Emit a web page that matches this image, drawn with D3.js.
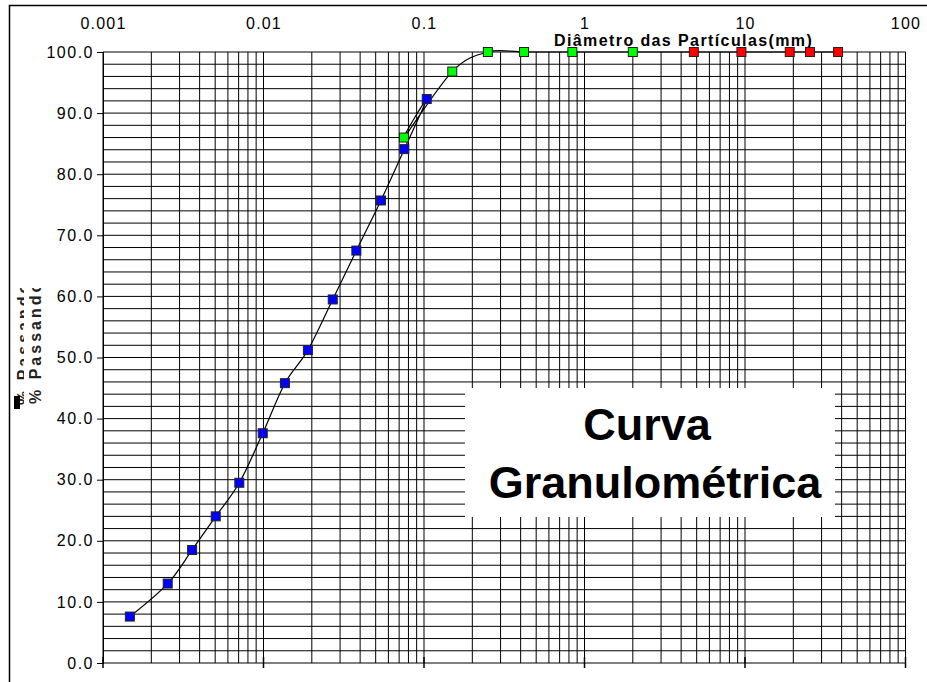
<!DOCTYPE html>
<html>
<head>
<meta charset="utf-8">
<script src="https://cdn.jsdelivr.net/npm/d3@7"></script>
<style>
  html, body { margin: 0; padding: 0; background: #fff; }
  svg { display: block; }
  text { font-family: "Liberation Sans", Arial, sans-serif; }
</style>
</head>
<body>
<svg id="chart" width="927" height="682"></svg>
<script>
// ---- data ----
const sedDiam = [0.00147, 0.00253, 0.00359, 0.00504, 0.00707, 0.00989, 0.0136, 0.0189, 0.0270, 0.0379, 0.0539, 0.0754, 0.104];
const sedPass = [7.6, 13.0, 18.5, 24.0, 29.5, 37.6, 45.8, 51.2, 59.5, 67.5, 75.7, 84.1, 92.3];
const fineDiam = [0.075, 0.15, 0.25, 0.42, 0.84, 2.0];
const finePass = [86.0, 96.8, 100.0, 100.0, 100.0, 100.0];
const coarseDiam = [4.8, 9.5, 19.0, 25.4, 38.0];
const coarsePass = [100.0, 100.0, 100.0, 100.0, 100.0];
const topTickValues = [0.001, 0.01, 0.1, 1, 10, 100];
const topTickLabels = ["0.001", "0.01", "0.1", "1", "10", "100"];
const yTickValues = [0, 10, 20, 30, 40, 50, 60, 70, 80, 90, 100];
const xTitle = "Diâmetro das Partículas(mm)";
const yTitle = "% Passando";
const boxLines = ["Curva", "Granulométrica"];

const svg = d3.select("#chart");
const x = d3.scaleLog().domain([0.001, 100]).range([103, 905.5]);
const y = d3.scaleLinear().domain([0, 100]).range([663, 52]);

// outer border
svg.append("rect").attr("x", 9.5).attr("y", 5.5).attr("width", 1000).attr("height", 1000)
  .attr("fill", "#fff").attr("stroke", "#000").attr("stroke-width", 1.5);

// grid
const vGrid = [];
for (let n = -3; n <= 1; n++) for (let k = 1; k <= 9; k++) vGrid.push(k * Math.pow(10, n));
vGrid.push(100);
const hGrid = d3.range(0, 101, 2);
const grid = svg.append("g");
grid.selectAll("line.v").data(vGrid).join("line")
  .attr("x1", d => x(d)).attr("x2", d => x(d)).attr("y1", y(0)).attr("y2", y(100))
  .attr("stroke", "#000").attr("stroke-width", 1);
grid.selectAll("line.h").data(hGrid).join("line")
  .attr("x1", x(0.001)).attr("x2", x(100)).attr("y1", d => y(d)).attr("y2", d => y(d))
  .attr("stroke", "#000").attr("stroke-width", 1);

// y axis
const yAxis = svg.append("g").attr("transform", `translate(${x(0.001)},0)`)
  .call(d3.axisLeft(y).tickValues(yTickValues).tickSize(6).tickPadding(3).tickFormat(d3.format(".1f")));
yAxis.select(".domain").attr("stroke", "#000");
yAxis.selectAll(".tick line").attr("stroke", "#000");
yAxis.selectAll("text").attr("font-size", 16).attr("fill", "#000")
  .attr("letter-spacing", 1.5).attr("font-family", "Liberation Sans, Arial, sans-serif");

// top axis labels
const topAxis = svg.append("g").attr("transform", `translate(0,${y(100)})`)
  .call(d3.axisTop(x).tickValues(topTickValues).tickSize(0).tickPadding(23)
    .tickFormat((d, i) => topTickLabels[i]));
topAxis.select(".domain").remove();
topAxis.selectAll("text").attr("font-size", 16).attr("fill", "#000")
  .attr("letter-spacing", 1.2).attr("font-family", "Liberation Sans, Arial, sans-serif");

// bottom decade tick marks
svg.append("g").selectAll("line").data(topTickValues).join("line")
  .attr("x1", d => x(d)).attr("x2", d => x(d)).attr("y1", y(0) - 6).attr("y2", y(0) + 5)
  .attr("stroke", "#000").attr("stroke-width", 1.5);

// x title
svg.append("text").attr("x", 554).attr("y", 46).attr("font-size", 16).attr("font-weight", "bold")
  .attr("letter-spacing", 1.4).attr("fill", "#000").text(xTitle);

// y title (clipped, as in the reference)
const defs = svg.append("defs");
defs.append("clipPath").attr("id", "yclipA").append("rect").attr("x", 14).attr("y", 288).attr("width", 10).attr("height", 122);
defs.append("clipPath").attr("id", "yclipB").append("rect").attr("x", 29).attr("y", 288).attr("width", 14).attr("height", 122);
svg.append("g").attr("clip-path", "url(#yclipA)").append("text")
  .attr("transform", "translate(29,405) rotate(-90)")
  .attr("font-size", 16).attr("font-weight", "bold").attr("letter-spacing", 3)
  .attr("fill", "#222").text(yTitle);
svg.append("g").attr("clip-path", "url(#yclipB)").append("text")
  .attr("transform", "translate(41,404) rotate(-90)")
  .attr("font-size", 16).attr("font-weight", "bold").attr("letter-spacing", 3)
  .attr("fill", "#222").text(yTitle);
svg.append("rect").attr("x", 14).attr("y", 396).attr("width", 6).attr("height", 13).attr("fill", "#000");

// title box
svg.append("rect").attr("x", 465).attr("y", 388).attr("width", 370).attr("height", 129).attr("fill", "#fff");
svg.append("text").attr("x", 647).attr("y", 440).attr("text-anchor", "middle")
  .attr("font-size", 45).attr("font-weight", "bold").attr("fill", "#000").text(boxLines[0]);
svg.append("text").attr("x", 655).attr("y", 498).attr("text-anchor", "middle")
  .attr("font-size", 45).attr("font-weight", "bold").attr("fill", "#000").text(boxLines[1]);

// curve: coarse (desc), fine (desc), sedimentation (desc)
const seq = [];
for (let i = coarseDiam.length - 1; i >= 0; i--) seq.push([coarseDiam[i], coarsePass[i]]);
for (let i = fineDiam.length - 1; i >= 0; i--) seq.push([fineDiam[i], finePass[i]]);
for (let i = sedDiam.length - 1; i >= 0; i--) seq.push([sedDiam[i], sedPass[i]]);
const line = d3.line().x(d => x(d[0])).y(d => y(d[1])).curve(d3.curveCardinal.tension(0));
svg.append("path").attr("d", line(seq)).attr("fill", "none").attr("stroke", "#000").attr("stroke-width", 1.2);

// markers
function markers(dArr, pArr, color) {
  svg.append("g").selectAll("rect").data(dArr).join("rect")
    .attr("x", d => x(d) - 4.5).attr("y", (d, i) => y(pArr[i]) - 4.5)
    .attr("width", 9).attr("height", 9)
    .attr("fill", color).attr("stroke", "#222").attr("stroke-width", 1);
}
markers(sedDiam, sedPass, "#0000ff");
markers(fineDiam, finePass, "#00ff00");
markers(coarseDiam, coarsePass, "#ff0000");
</script>
</body>
</html>
